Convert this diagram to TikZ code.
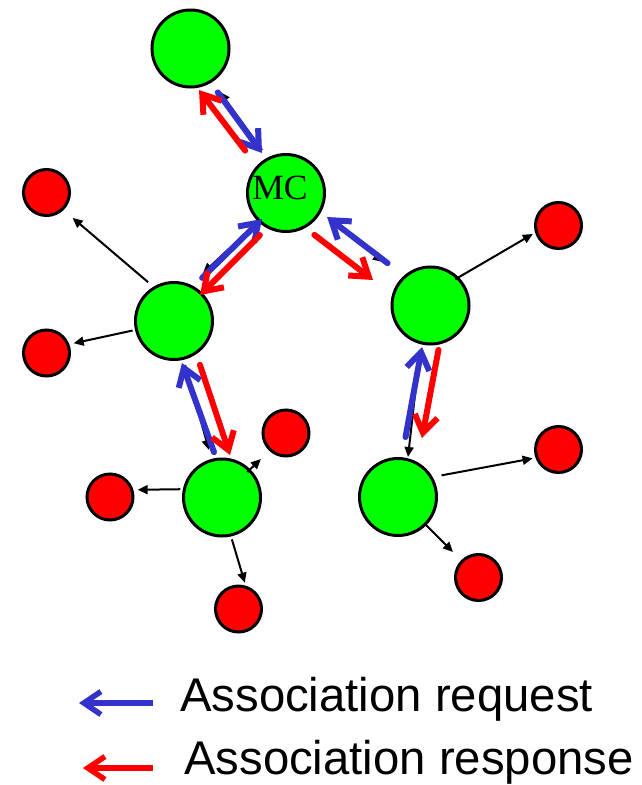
\documentclass[tikz,border=0pt]{standalone}
\usepackage{fontspec}
\setmainfont{Liberation Sans}
\newfontfamily\mcfont{Liberation Serif}
\usetikzlibrary{arrows.meta}
\definecolor{nodegreen}{RGB}{0,255,0}
\definecolor{reqblue}{RGB}{51,51,204}
\definecolor{resred}{RGB}{255,0,0}
\begin{document}
\begin{tikzpicture}[x=1pt,y=-1pt,
  hub/.style={circle,draw=black,line width=3pt,fill=nodegreen,minimum size=77pt,inner sep=0pt},
  leaf/.style={circle,draw=black,line width=3pt,fill=resred,minimum size=46pt,inner sep=0pt},
  link/.style={draw=black,line width=2pt,-{Triangle[length=10pt,width=9pt]}},
  req/.style={draw=reqblue,line width=6pt,line cap=round,-{Straight Barb[length=17pt,width=23pt]}},
  res/.style={draw=resred,line width=6pt,line cap=round,-{Straight Barb[length=17pt,width=23pt]}},
  legtext/.style={anchor=base west,inner sep=0pt,font=\fontsize{47.3}{56}\selectfont}]
\useasboundingbox (0,0) rectangle (642,785);
% hub nodes
\node[hub] (top) at (190.5,48.5) {};
\node[hub] (mc) at (286,193) {};
\node[hub] (lm) at (174,321) {};
\node[hub] (rm) at (430.5,305.5) {};
\node[hub] (bl) at (222,497.5) {};
\node[hub] (br) at (398,497) {};
\node[font=\mcfont\fontsize{35.5}{40}\selectfont,anchor=base,inner sep=0pt] (mclabel) at (280,199) {MC};
% leaf nodes
\node[leaf] (l1) at (46.5,192.5) {};
\node[leaf] (l2) at (46.5,353) {};
\node[leaf] (r1) at (558.5,225.5) {};
\node[leaf] (b1) at (286,433) {};
\node[leaf] (b2) at (110,497) {};
\node[leaf] (b3) at (238.5,609) {};
\node[leaf] (r2) at (558.5,449.5) {};
\node[leaf] (r3) at (478.5,577.5) {};
% thin links to leaves
\draw[link,shorten <=7pt,shorten >=12pt] (lm.121.6) -- (l1.-46);
\draw[link,shorten <=2.5pt,shorten >=4.4pt] (lm.-167.3) -- (l2.21.4);
\draw[link,shorten <=-4pt,shorten >=2.6pt] (rm.45) -- (r1.-163);
\draw[link,shorten <=-4pt,shorten >=11.7pt] (bl.45.6) -- (b1.-133.8);
\draw[link,shorten <=2.4pt,shorten >=4.2pt] (bl.168) -- (b2.17.1);
\draw[link,shorten <=3pt,shorten >=3pt] (bl.-77.5) -- (b3.73.3);
\draw[link,shorten <=9pt,shorten >=2.9pt] (br.30.3) -- (r2.-160.9);
\draw[link,shorten <=-3pt,shorten >=11.6pt] (br.-45) -- (r3.135);
% tree links (mostly hidden under request arrows)
\coordinate (t1a) at (262,150); \coordinate (t1b) at (220,92);
\coordinate (t2a) at (258,222); \coordinate (t2b) at (203,273);
\coordinate (t3a) at (330,220); \coordinate (t3b) at (383,262);
\coordinate (t4a) at (185,365); \coordinate (t4b) at (209,450);
\coordinate (t5a) at (420,350); \coordinate (t5b) at (408,457);
\draw[link] (t1a) -- (t1b);
\draw[link] (t2a) -- (t2b);
\draw[link] (t3a) -- (t3b);
\draw[link] (t4a) -- (t4b);
\draw[link] (t5a) -- (t5b);
% request / response arrows
\coordinate (q1a) at (216,90);  \coordinate (q1b) at (262,153);
\coordinate (p1a) at (247,153); \coordinate (p1b) at (199,90);
\coordinate (q2a) at (200,280); \coordinate (q2b) at (262,219);
\coordinate (p2a) at (262,233); \coordinate (p2b) at (200,295);
\coordinate (q3a) at (390,265); \coordinate (q3b) at (327,217);
\coordinate (p3a) at (312,233); \coordinate (p3b) at (373,280);
\coordinate (q4a) at (215,455); \coordinate (q4b) at (182,363);
\coordinate (p4a) at (199,362); \coordinate (p4b) at (230,455);
\coordinate (q5a) at (405,440); \coordinate (q5b) at (422,347);
\coordinate (p5a) at (439,347); \coordinate (p5b) at (422,438);
\foreach \i in {1,...,5} {\draw[req,shorten <=3pt] (q\i a) -- (q\i b);}
\foreach \i in {1,...,5} {\draw[res,shorten <=3pt] (p\i a) -- (p\i b);}
% legend
\coordinate (lqa) at (153,703); \coordinate (lqb) at (79,703);
\coordinate (lpa) at (153,768); \coordinate (lpb) at (83,768);
\draw[req,line width=5.5pt,line cap=butt] (lqa) -- (lqb);
\draw[res,line width=5.5pt,line cap=butt] (lpa) -- (lpb);
\node[legtext] (legq) at (180,711) {Association request};
\node[legtext] (legp) at (184,774) {Association response};
\end{tikzpicture}
\end{document}
